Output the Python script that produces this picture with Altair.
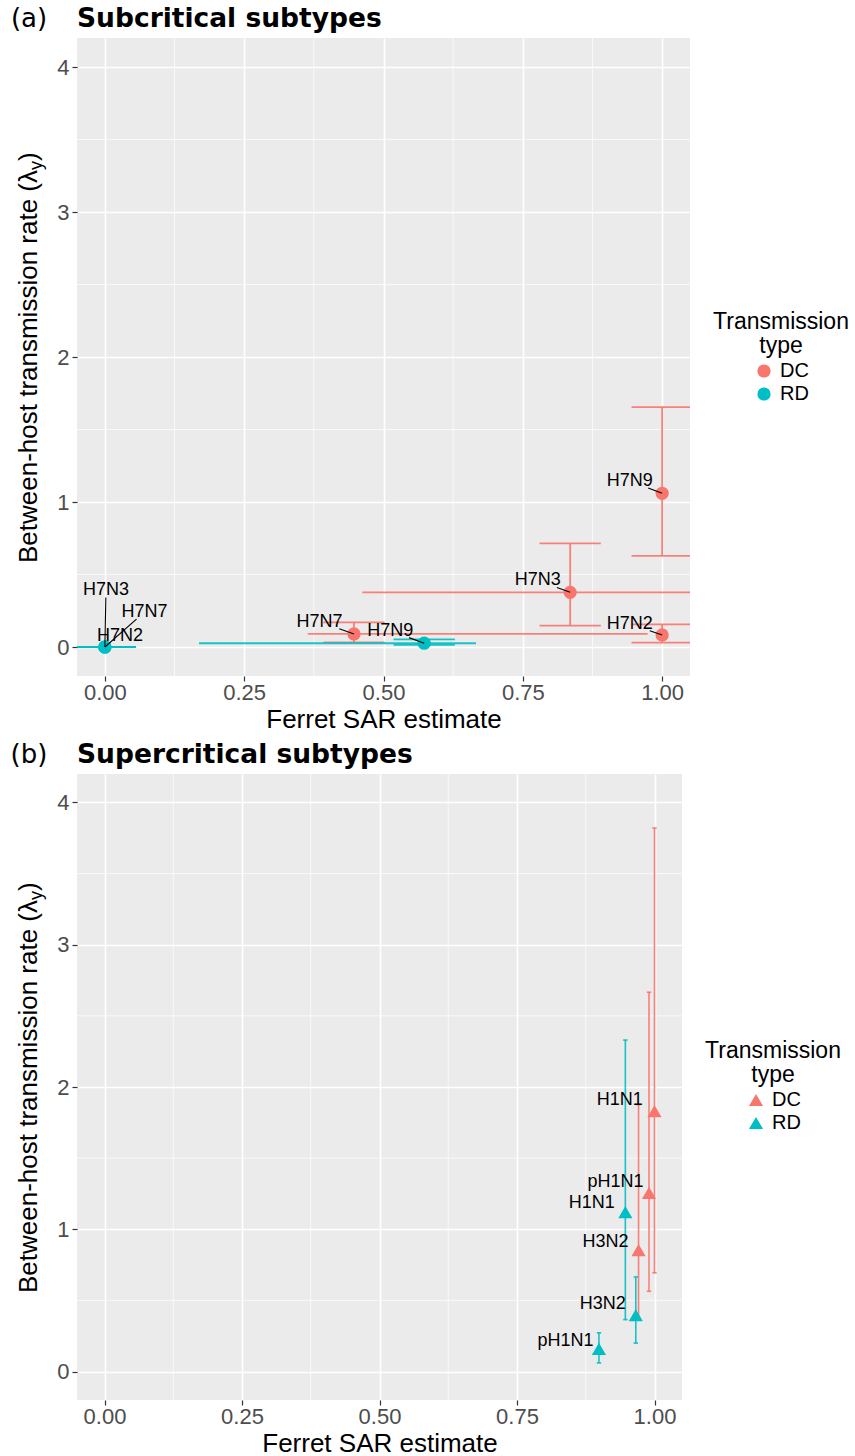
import math
import altair as alt
import pandas as pd

FONT = "Liberation Sans"
TITLE_FONT = "DejaVu Sans"
RED = "#F8766D"
TEAL = "#00BFC4"
PANEL_BG = "#EBEBEB"

X_DOM = [-0.05, 1.05]
Y_DOM = [-0.2, 4.2]
major_x = [0.0, 0.25, 0.5, 0.75, 1.0]
minor_x = [0.125, 0.375, 0.625, 0.875]
major_y = [0, 1, 2, 3, 4]
minor_y = [0.5, 1.5, 2.5, 3.5]

# ---- (a) subcritical subtypes ----
sub_a = ["H7N9", "H7N3", "H7N2", "H7N7", "H7N9", "H7N3", "H7N7", "H7N2"]
type_a = ["DC", "DC", "DC", "DC", "RD", "RD", "RD", "RD"]
sar_a = [1.00, 0.835, 1.00, 0.447, 0.573, 0.0, 0.0, 0.0]
sar_lo_a = [1.00, 0.462, 1.00, 0.364, 0.169, 0.0, 0.0, 0.0]
sar_hi_a = [1.00, 1.10, 1.00, 0.974, 0.666, 0.0, 0.0, 0.0]
rate_a = [1.06, 0.377, 0.083, 0.090, 0.026, 0.0, 0.0, 0.0]
rate_lo_a = [0.628, 0.147, 0.030, 0.032, 0.014, 0.0, 0.0, 0.0]
rate_hi_a = [1.655, 0.715, 0.156, 0.170, 0.053, 0.0, 0.0, 0.0]
# repelled label offsets (data units)
nudge_x_a = [-0.058, -0.058, -0.058, -0.062, -0.061, 0.002, 0.071, 0.027]
nudge_y_a = [0.085, 0.082, 0.078, 0.084, 0.087, 0.39, 0.241, 0.078]

# ---- (b) supercritical subtypes ----
sub_b = ["H1N1", "pH1N1", "H3N2", "H1N1", "H3N2", "pH1N1"]
type_b = ["DC", "DC", "DC", "RD", "RD", "RD"]
sar_b = [1.00, 0.990, 0.971, 0.947, 0.966, 0.899]
rate_b = [1.83, 1.256, 0.853, 1.12, 0.396, 0.160]
rate_lo_b = [0.694, 0.564, 0.365, 0.365, 0.200, 0.061]
rate_hi_b = [3.82, 2.666, 1.876, 2.33, 0.665, 0.272]
nudge_x_b = [-0.063, -0.061, -0.060, -0.061, -0.060, -0.061]
nudge_y_b = [0.082, 0.073, 0.057, 0.068, 0.082, 0.058]

W_A, H_A = 613, 638
W_B, H_B = 605, 626


def label_table(sub, typ, sar, rate, nx, ny, W, H, half_w=23, half_h=7, min_len=8):
    sx = W / (X_DOM[1] - X_DOM[0])
    sy = H / (Y_DOM[1] - Y_DOM[0])
    rows = []
    for s, t, xv, yv, ax, ay in zip(sub, typ, sar, rate, nx, ny):
        lx, ly = xv + ax, yv + ay
        dx, dy = -ax * sx, -ay * sy
        tx = half_w / abs(dx) if dx else float("inf")
        ty = half_h / abs(dy) if dy else float("inf")
        k = min(tx, ty)
        length = (1 - k) * math.hypot(dx, dy)
        rows.append(dict(subtype=s, type=t, sar=xv, rate=yv, lab_x=lx, lab_y=ly,
                         seg_x=lx + k * (xv - lx), seg_y=ly + k * (yv - ly),
                         seg=bool(k < 1 and length > min_len)))
    return pd.DataFrame(rows)


def axes():
    xa = alt.Axis(values=major_x, format=".2f", grid=True, gridColor="white", gridWidth=1.6,
                  domain=False, tickColor="#333333", tickSize=5, tickWidth=1.2,
                  labelFont=FONT, labelFontSize=22, labelColor="#4D4D4D", labelPadding=1,
                  title="Ferret SAR estimate", titleFont=FONT, titleFontSize=26,
                  titleFontWeight="normal", titleColor="black", titlePadding=3)
    ya = alt.Axis(values=major_y, format="d", grid=True, gridColor="white", gridWidth=1.6,
                  domain=False, tickColor="#333333", tickSize=5, tickWidth=1.2,
                  labelFont=FONT, labelFontSize=22, labelColor="#4D4D4D", labelPadding=3,
                  title=None)
    return xa, ya


def enc_x(field, typ="quantitative"):
    xa, _ = axes()
    return alt.X(field, type=typ, scale=alt.Scale(domain=X_DOM, nice=False, zero=False), axis=xa)


def enc_y(field, typ="quantitative"):
    _, ya = axes()
    return alt.Y(field, type=typ, scale=alt.Scale(domain=Y_DOM, nice=False, zero=False), axis=ya)


line_color = alt.condition(alt.datum.type == "DC", alt.value(RED), alt.value(TEAL))


def panel(df, W, H, tag, title, shape, size, cap_half, legend_xy, with_h=True, with_seg=True,
          line_w=1.8):
    one = pd.DataFrame({"k": [0]})
    grid_x = alt.Chart(pd.DataFrame({"gx": minor_x})).mark_rule(
        color="white", strokeWidth=0.7).encode(x=enc_x("gx"))
    grid_y = alt.Chart(pd.DataFrame({"gy": minor_y})).mark_rule(
        color="white", strokeWidth=0.7).encode(y=enc_y("gy"))

    base = alt.Chart(df)
    vbar = base.mark_rule(strokeWidth=line_w, opacity=0.9, clip=True).encode(
        x=enc_x("sar"), y=enc_y("rate_lo"), y2="rate_hi", color=line_color)
    caps = base.transform_calculate(
        cl=f"datum.sar - {cap_half}", cr=f"datum.sar + {cap_half}")
    cap_lo = caps.mark_rule(strokeWidth=line_w, opacity=0.9, clip=True).encode(
        x=enc_x("cl"), x2="cr", y=enc_y("rate_lo"), color=line_color)
    cap_hi = caps.mark_rule(strokeWidth=line_w, opacity=0.9, clip=True).encode(
        x=enc_x("cl"), x2="cr", y=enc_y("rate_hi"), color=line_color)
    layers = [grid_x, grid_y, vbar, cap_lo, cap_hi]
    if with_h:
        hbar = base.transform_filter("datum.sar_hi > datum.sar_lo").mark_rule(
            strokeWidth=line_w, opacity=0.9, clip=True).encode(
            x=enc_x("sar_lo"), x2="sar_hi", y=enc_y("rate"), color=line_color)
        layers.append(hbar)

    pts = base.mark_point(filled=True, shape=shape, size=size, opacity=1).encode(
        x=enc_x("sar"), y=enc_y("rate"),
        color=alt.Color("type:N", scale=alt.Scale(domain=["DC", "RD"], range=[RED, TEAL]),
                        legend=alt.Legend(
                            title=["Transmission", "type"], orient="none",
                            legendX=legend_xy[0], legendY=legend_xy[1],
                            titleFont=FONT, titleFontSize=23, titleFontWeight="normal",
                            titleColor="black", titleAlign="center", titleAnchor="middle",
                            titleLineHeight=24, titlePadding=3, titleLimit=400,
                            labelFont=FONT, labelFontSize=20, labelColor="black",
                            labelOffset=6, rowPadding=3, symbolType=shape,
                            symbolSize=size, symbolOpacity=1, symbolStrokeWidth=0,
                            padding=0)))
    layers.append(pts)

    if with_seg:
        seg = base.transform_filter("datum.seg").mark_rule(color="black", strokeWidth=1.1).encode(
            x=enc_x("seg_x"), y=enc_y("seg_y"), x2="sar", y2="rate")
        layers.append(seg)

    txt = base.mark_text(font=FONT, fontSize=18, color="black", baseline="middle",
                         align="center").encode(
        x=enc_x("lab_x"), y=enc_y("lab_y"), text="subtype:N")
    layers.append(txt)

    # y-axis title with subscript
    cy = H / 2
    anchor = cy - 187
    ytitle_main = alt.Chart(one).mark_text(
        text="Between-host transmission rate (λ", angle=270, align="right",
        baseline="alphabetic", font=FONT, fontSize=26, color="black").encode(
        x=alt.value(-40.5), y=alt.value(anchor))
    ytitle_sub = alt.Chart(one).mark_text(
        text="y", angle=270, align="left", baseline="alphabetic", font=FONT,
        fontSize=18, color="black").encode(x=alt.value(-35), y=alt.value(anchor))
    ytitle_end = alt.Chart(one).mark_text(
        text=")", angle=270, align="left", baseline="alphabetic", font=FONT,
        fontSize=26, color="black").encode(x=alt.value(-40.5), y=alt.value(anchor - 9))
    tag_txt = alt.Chart(one).mark_text(
        text=tag, align="center", baseline="alphabetic", font=TITLE_FONT, fontSize=26,
        color="black").encode(x=alt.value(-48), y=alt.value(-11))
    title_txt = alt.Chart(one).mark_text(
        text=title, align="left", baseline="alphabetic", font=TITLE_FONT, fontSize=26.5,
        fontWeight="bold", color="black").encode(x=alt.value(0), y=alt.value(-11))
    layers += [ytitle_main, ytitle_sub, ytitle_end, tag_txt, title_txt]

    return alt.layer(*layers).properties(
        width=W, height=H,
        view=alt.ViewBackground(fill=PANEL_BG, strokeWidth=0))


df_a = label_table(sub_a, type_a, sar_a, rate_a, nudge_x_a, nudge_y_a, W_A, H_A)
df_a["sar_lo"] = sar_lo_a
df_a["sar_hi"] = sar_hi_a
df_a["rate_lo"] = rate_lo_a
df_a["rate_hi"] = rate_hi_a

df_b = label_table(sub_b, type_b, sar_b, rate_b, nudge_x_b, nudge_y_b, W_B, H_B)
df_b["rate_lo"] = rate_lo_b
df_b["rate_hi"] = rate_hi_b

pa = panel(df_a, W_A, H_A, "(a)", "Subcritical subtypes", "circle", 175, 0.055,
           (636, 273), with_h=True, with_seg=True)
pb = panel(df_b, W_B, H_B, "(b)", "Supercritical subtypes", "triangle-up", 200, 0.004,
           (628, 266), with_h=False, with_seg=False, line_w=1.6)

chart = alt.vconcat(pa, pb, spacing=10).resolve_scale(
    x="independent", y="independent", color="independent"
).properties(
    padding={"left": 10, "top": 6, "right": 0, "bottom": 0}
).configure_view(fill=PANEL_BG, strokeWidth=0).configure(background="white")

chart.save("out.html", embed_options={"renderer": "svg", "actions": False})
